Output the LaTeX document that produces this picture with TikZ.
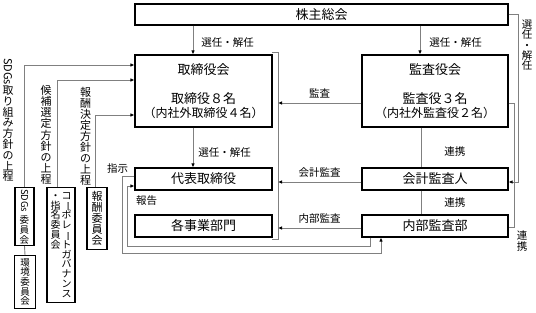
\documentclass[tikz,border=0pt]{standalone}
\usepackage{fontspec}
\setmainfont{Noto Sans CJK JP}
\usetikzlibrary{arrows.meta}

% vertical writing: one glyph per row, fixed pitch
\newcommand{\tate}[2]{\vtop{\let\\\cr\baselineskip=#1\lineskiplimit=-\maxdimen\lineskip=0pt
  \halign{\hfil##\hfil\cr#2\crcr}}}
\newcommand{\tatebar}{\rotatebox[origin=c]{-90}{ー}}
\newcommand{\tatesdgs}{\rotatebox[origin=c]{-90}{SDGs}}

\tikzset{
  box/.style={draw=black, line width=1.1pt, fill=white, inner sep=0pt,
    font=\fontsize{13}{15}\selectfont},
  cbox/.style={draw=black, line width=1.1pt, fill=white, inner sep=0pt},
  conn/.style={draw=black!50, line width=0.9pt},
  arr/.style={conn, -{Latex[length=4pt,width=3.5pt,color=black]}},
  lbl/.style={font=\fontsize{10.5}{12}\selectfont, inner sep=0pt},
  vlbl/.style={font=\fontsize{11}{11}\selectfont, inner sep=0pt, anchor=north}
}

\begin{document}
\begin{tikzpicture}[x=1pt,y=-1pt]
\useasboundingbox (0,0) rectangle (536,313);

% Main bodies
\node[box, minimum width=373pt, minimum height=21pt] (gm) at (321.5,14.5) {株主総会};
\node[box, minimum width=137pt, minimum height=72pt, align=center] (board) at (203.5,91)
  {取締役会\\[14pt]取締役８名\\[-1pt]{\fontsize{12}{13}\selectfont （内社外取締役４名）}};
\node[box, minimum width=146pt, minimum height=72pt, align=center] (acb) at (435,91)
  {監査役会\\[14pt]監査役３名\\[-1pt]{\fontsize{12}{13}\selectfont （内社外監査役２名）}};
\node[box, minimum width=137pt, minimum height=22pt] (ceo) at (203.5,179) {代表取締役};
\node[box, minimum width=137pt, minimum height=22pt] (div) at (203.5,226) {各事業部門};
\node[box, minimum width=146pt, minimum height=22pt] (ca) at (435,179) {会計監査人};
\node[box, minimum width=146pt, minimum height=22pt] (iad) at (435,226) {内部監査部};

% Committees
\node[cbox, minimum width=19pt, minimum height=58pt, anchor=north,
  font=\fontsize{9.5}{9.5}\selectfont] (sdgs) at (24.5,187)
  {\tate{10pt}{\tatesdgs\\\noalign{\vskip 9pt}委\\員\\会}};
\node[cbox, minimum width=21pt, minimum height=53pt, anchor=north,
  font=\fontsize{9.5}{9.5}\selectfont] (env) at (25,255)
  {\tate{9.6pt}{環\\境\\委\\員\\会}};
\node[cbox, minimum width=28pt, minimum height=115pt, anchor=north,
  font=\fontsize{10}{10}\selectfont] (cg) at (61,187)
  {\tate{9.8pt}{・\\指\\名\\委\\員\\会}\hspace{1pt}%
   \tate{9.8pt}{コ\\\tatebar\\ポ\\レ\\\tatebar\\ト\\ガ\\バ\\ナ\\ン\\ス}};
\node[cbox, minimum width=20pt, minimum height=62pt, anchor=north,
  font=\fontsize{11}{11}\selectfont] (rem) at (97,187)
  {\tate{11pt}{報\\酬\\委\\員\\会}};

% Proposals to the board
\node[vlbl] (sdgsup) at (8,58)
  {\tate{10.8pt}{\tatesdgs\\\noalign{\vskip 8pt}取\\り\\組\\み\\方\\針\\の\\上\\程}};
\node[vlbl] (cgup) at (46,85) {\tate{11.2pt}{候\\補\\選\\定\\方\\針\\の\\上\\程}};
\node[vlbl] (remup) at (85.5,87) {\tate{11pt}{報\\酬\\決\\定\\方\\針\\の\\上\\程}};

\draw[arr] (sdgs.north) |- ([yshift=26pt]board.west);
\draw[arr] ([xshift=-4pt]cg.north) |- ([yshift=11pt]board.west);
\draw[arr] ([xshift=-2pt]rem.north) |- ([yshift=-24pt]board.west);
\draw[conn] (sdgs.south) -- (env.north);

% Appointment / dismissal
\coordinate (bx) at ([xshift=-10.5pt]board.north);
\coordinate (ax) at ([xshift=-15pt]acb.north);
\draw[arr] (bx |- gm.south) -- (bx) node[lbl, midway, right=8pt, yshift=-3pt] {選任・解任};
\draw[arr] (ax |- gm.south) -- (ax) node[lbl, midway, right=9pt, yshift=-3pt] {選任・解任};
\draw[arr] (bx |- board.south) -- (bx |- ceo.north) node[lbl, midway, right=5pt, yshift=-5pt] {選任・解任};
\draw[arr] (gm.east) -- ++(10,0) |- ([yshift=-3pt]ca.east);
\node[vlbl, font=\fontsize{10.5}{10.5}\selectfont] (gmlbl) at (527,20)
  {\tate{10.2pt}{選\\任\\・\\解\\任}};

% Bracket round the executive side
\coordinate (brtop) at (278,52);
\coordinate (brbot) at (278,239);
\draw[conn] (272,52) -- (brtop) -- (brbot) -- (272,239);

% Audits
\coordinate (a1) at ([yshift=-12pt]acb.west);
\coordinate (a2) at ([yshift=-3pt]ca.west);
\coordinate (a3) at ([yshift=-2pt]iad.west);
\draw[arr] (a1) -- (a1 -| brtop) node[lbl, midway, above=4pt] {監査};
\draw[arr] (a2) -- (a2 -| brtop) node[lbl, midway, above=4pt] {会計監査};
\draw[arr] (a3) -- (a3 -| brtop) node[lbl, midway, above=4pt] {内部監査};

% Cooperation
\coordinate (lx) at ([xshift=-14pt]acb.south);
\draw[conn] (lx) -- (lx |- ca.north) node[lbl, midway, right=23pt, yshift=-4pt] {連携};
\draw[conn] (lx |- ca.south) -- (lx |- iad.north) node[lbl, midway, right=23pt] {連携};
\draw[conn] ([yshift=-12pt]acb.east) -- ++(6,0) |- ([yshift=-1pt]iad.east);
\node[vlbl, font=\fontsize{10.5}{10.5}\selectfont] (iadlbl) at (522,230)
  {\tate{11pt}{連\\携}};

% Instruction and report loop
\coordinate (iadout) at ([xshift=-54pt]iad.south);
\coordinate (iadin) at ([xshift=-65pt]iad.south);
\draw[arr] ([yshift=3pt]ceo.west) -| (122,253) -| (iadout);
\draw[arr] (iadin) |- (127,246) |- ([yshift=-7pt]ceo.west);
\node[lbl] (inst) at (117.5,169) {指示};
\node[lbl] (rep) at (146.5,201) {報告};

\end{tikzpicture}
\end{document}
